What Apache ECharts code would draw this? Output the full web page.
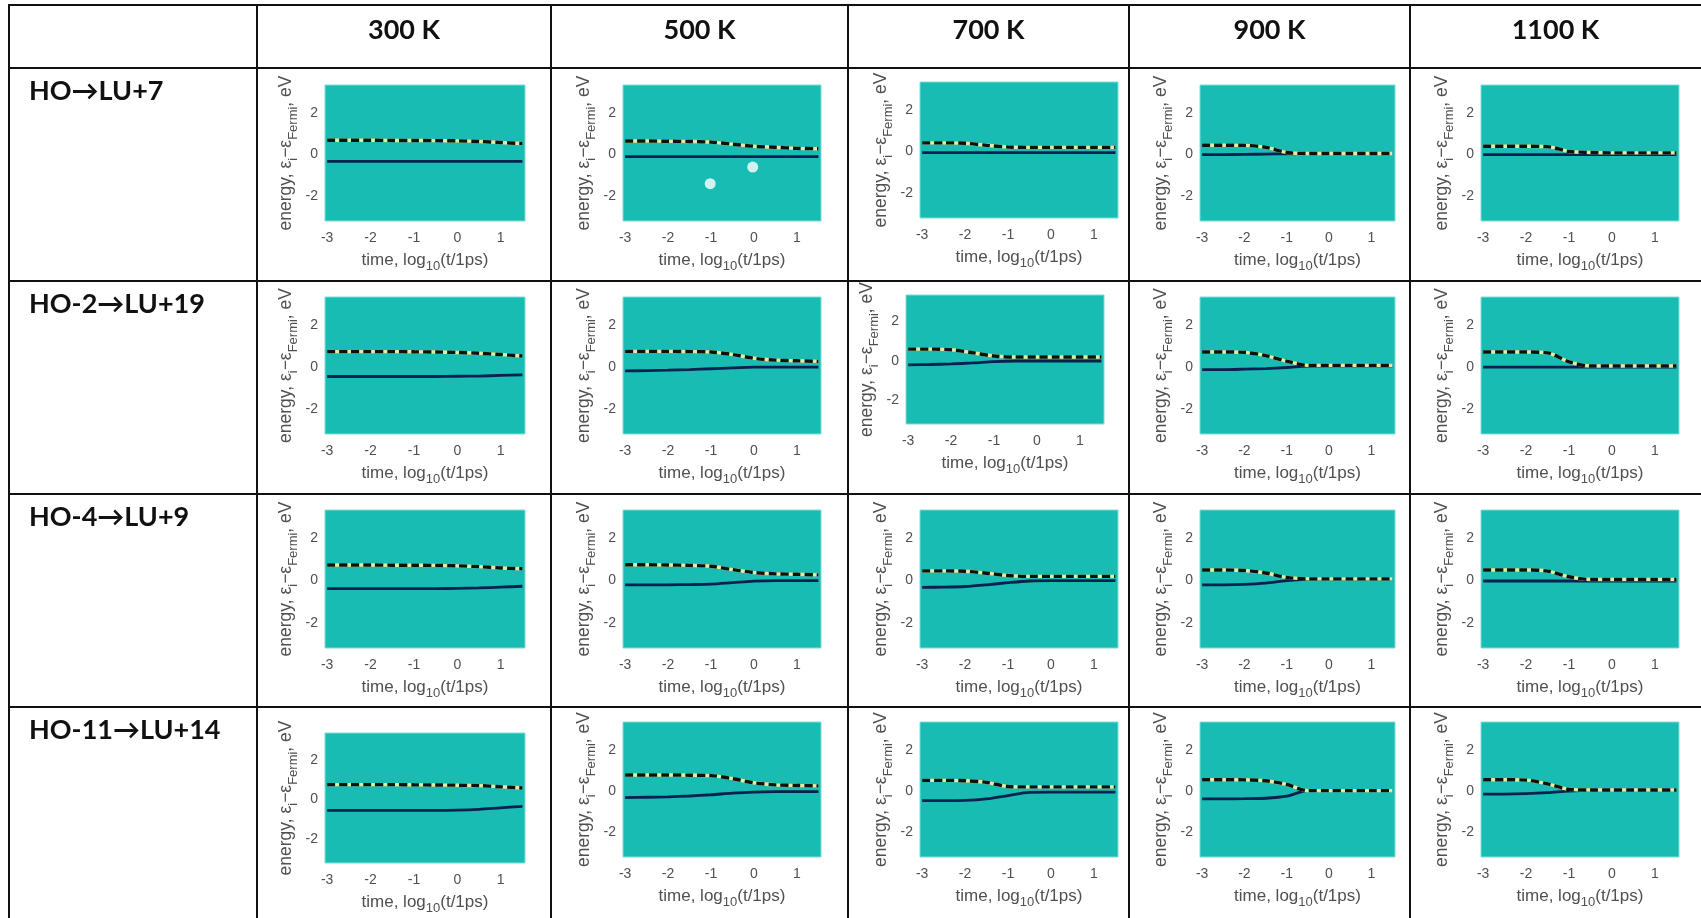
<!DOCTYPE html>
<html><head><meta charset="utf-8">
<script src="https://cdn.jsdelivr.net/npm/echarts@6/dist/echarts.min.js"></script>
<style>html,body{margin:0;padding:0;background:#fff}#c{width:1701px;height:918px}</style>
</head><body><div id="c"></div>
<script>
// ---------- DATA ----------
const temps = ['300 K', '500 K', '700 K', '900 K', '1100 K'];
const transitions = ['HO→LU+7', 'HO-2→LU+19', 'HO-4→LU+9', 'HO-11→LU+14'];
const times = [-3, -2.5, -2, -1.5, -1, -0.5, 0, 0.5, 1, 1.5];
const xTicks = [-3, -2, -1, 0, 1];
const yTicks = [-2, 0, 2];

// dashed (upper) level per temperature, row HO->LU+7
const dashedRow1 = [
  [0.69, 0.69, 0.69, 0.68, 0.68, 0.67, 0.66, 0.63, 0.58, 0.53],
  [0.65, 0.65, 0.64, 0.63, 0.60, 0.50, 0.40, 0.35, 0.30, 0.28],
  [0.42, 0.42, 0.40, 0.30, 0.22, 0.20, 0.20, 0.20, 0.20, 0.20],
  [0.45, 0.45, 0.44, 0.35, 0.10, 0.05, 0.05, 0.05, 0.05, 0.05],
  [0.40, 0.40, 0.40, 0.38, 0.15, 0.10, 0.08, 0.08, 0.08, 0.08]
];
const solidRow1 = [
  [-0.33, -0.33, -0.33, -0.33, -0.33, -0.33, -0.33, -0.33, -0.33, -0.33],
  [-0.10, -0.10, -0.10, -0.10, -0.10, -0.10, -0.10, -0.10, -0.10, -0.10],
  [-0.05, -0.05, -0.05, -0.05, -0.05, -0.05, -0.05, -0.05, -0.05, -0.05],
  [0.00, 0.00, 0.01, 0.02, 0.04, 0.05, 0.05, 0.05, 0.05, 0.05],
  [0.00, 0.00, 0.00, 0.00, 0.00, 0.00, 0.00, 0.00, 0.00, 0.00]
];
// row HO-2->LU+19
const dashedRow2 = [
  [0.74, 0.74, 0.74, 0.74, 0.73, 0.72, 0.70, 0.66, 0.60, 0.53],
  [0.75, 0.75, 0.75, 0.74, 0.72, 0.60, 0.42, 0.33, 0.30, 0.27],
  [0.60, 0.60, 0.57, 0.42, 0.25, 0.20, 0.20, 0.20, 0.20, 0.20],
  [0.72, 0.72, 0.70, 0.55, 0.28, 0.08, 0.08, 0.08, 0.08, 0.08],
  [0.72, 0.72, 0.72, 0.68, 0.25, 0.05, 0.05, 0.05, 0.05, 0.05]
];
const solidRow2 = [
  [-0.45, -0.45, -0.45, -0.45, -0.45, -0.45, -0.44, -0.43, -0.40, -0.37],
  [-0.18, -0.17, -0.15, -0.12, -0.08, -0.04, 0.00, 0.00, 0.00, 0.00],
  [-0.20, -0.18, -0.15, -0.10, -0.03, 0.00, 0.00, 0.00, 0.00, 0.00],
  [-0.12, -0.12, -0.10, -0.07, -0.02, 0.05, 0.06, 0.06, 0.06, 0.06],
  [0.00, 0.00, 0.00, 0.00, 0.00, 0.00, 0.00, 0.00, 0.00, 0.00]
];
// row HO-4->LU+9
const dashedRow3 = [
  [0.74, 0.74, 0.74, 0.73, 0.73, 0.72, 0.70, 0.66, 0.60, 0.56],
  [0.75, 0.75, 0.74, 0.72, 0.68, 0.52, 0.38, 0.32, 0.30, 0.27],
  [0.46, 0.46, 0.44, 0.35, 0.24, 0.20, 0.20, 0.20, 0.20, 0.20],
  [0.50, 0.50, 0.48, 0.36, 0.15, 0.08, 0.08, 0.08, 0.08, 0.08],
  [0.50, 0.50, 0.50, 0.45, 0.18, 0.05, 0.05, 0.05, 0.05, 0.05]
];
const solidRow3 = [
  [-0.38, -0.38, -0.38, -0.38, -0.38, -0.38, -0.37, -0.35, -0.31, -0.27],
  [-0.20, -0.20, -0.20, -0.19, -0.17, -0.10, -0.03, 0.00, 0.00, 0.00],
  [-0.32, -0.31, -0.28, -0.20, -0.10, -0.02, 0.00, 0.00, 0.00, 0.00],
  [-0.20, -0.20, -0.18, -0.12, 0.00, 0.06, 0.07, 0.07, 0.07, 0.07],
  [-0.02, -0.02, -0.02, -0.02, -0.02, -0.02, -0.02, -0.02, -0.02, -0.02]
];
// row HO-11->LU+14
const dashedRow4 = [
  [0.75, 0.75, 0.75, 0.75, 0.74, 0.73, 0.72, 0.70, 0.64, 0.58],
  [0.78, 0.78, 0.78, 0.77, 0.75, 0.60, 0.40, 0.30, 0.27, 0.25],
  [0.52, 0.52, 0.50, 0.42, 0.22, 0.20, 0.20, 0.20, 0.20, 0.20],
  [0.55, 0.55, 0.54, 0.50, 0.32, 0.02, 0.02, 0.02, 0.02, 0.02],
  [0.55, 0.55, 0.53, 0.35, 0.08, 0.05, 0.05, 0.05, 0.05, 0.05]
];
const solidRow4 = [
  [-0.55, -0.55, -0.55, -0.55, -0.55, -0.55, -0.54, -0.50, -0.42, -0.35],
  [-0.32, -0.30, -0.28, -0.24, -0.18, -0.10, -0.05, -0.03, -0.03, -0.03],
  [-0.46, -0.46, -0.45, -0.38, -0.22, -0.06, -0.05, -0.05, -0.05, -0.05],
  [-0.38, -0.38, -0.37, -0.35, -0.25, 0.02, 0.02, 0.02, 0.02, 0.02],
  [-0.15, -0.15, -0.13, -0.08, 0.00, 0.03, 0.03, 0.03, 0.03, 0.03]
];
// white dots seen in the HO->LU+7 / 500 K panel
const dotsX = [-1.02, -0.03];
const dotsY = [-1.4, -0.6];

const dashedRows = [dashedRow1, dashedRow2, dashedRow3, dashedRow4];
const solidRows = [solidRow1, solidRow2, solidRow3, solidRow4];

// ---------- LAYOUT ----------
const vLines = [9, 257, 551, 848, 1129, 1410];
const hLines = [5, 68, 281, 494, 707];
const colLeft = [325, 623, 920, 1200, 1481];
const colWidth = [200, 198, 198, 195, 198];
const rowTop = [85, 297, 510, 722];
const rowHeight = [136, 137, 138, 135];
function rect(r, c) {
  if (r === 1 && c === 2) return { left: 906, top: 295, width: 198, height: 129 };
  if (r === 3 && c === 0) return { left: 325, top: 733, width: 200, height: 130 };
  if (r === 0 && c === 2) return { left: 920, top: 82, width: 198, height: 136 };
  return { left: colLeft[c], top: rowTop[r], width: colWidth[c], height: rowHeight[r] };
}

const TEAL = '#18bcb3';
const labelColor = '#505050';
const tickFont = 'Liberation Sans';

const grids = [], xAxes = [], yAxes = [], series = [];
let idx = 0;
for (let r = 0; r < transitions.length; r++) {
  for (let c = 0; c < temps.length; c++) {
    const g = rect(r, c);
    grids.push(Object.assign({ show: true, backgroundColor: TEAL, borderColor: '#7fdcd6', borderWidth: 1, outerBoundsMode: 'none', containLabel: false }, g));
    xAxes.push({
      type: 'value', gridIndex: idx, min: -3.05, max: 1.56,
      axisLine: { show: false }, axisTick: { show: false }, splitLine: { show: false },
      axisLabel: { customValues: xTicks, color: labelColor, fontSize: 14, fontFamily: tickFont, margin: 10,
        formatter: v => (xTicks.indexOf(v) >= 0) ? String(v) : '' },
      name: '{a|time, log}{s|10}{a|(t/1ps)}', nameLocation: 'middle', nameGap: 27,
      nameTextStyle: { color: labelColor, fontFamily: tickFont, rich: {
        a: { fontSize: 17, color: labelColor, fontFamily: tickFont },
        s: { fontSize: 13, color: labelColor, fontFamily: tickFont, padding: [12, 0, 0, 0] } } }
    });
    yAxes.push({
      type: 'value', gridIndex: idx, min: -3.2, max: 3.35,
      axisLine: { show: false }, axisTick: { show: false }, splitLine: { show: false },
      axisLabel: { customValues: yTicks, color: labelColor, fontSize: 14, fontFamily: tickFont, margin: 7,
        formatter: v => (yTicks.indexOf(v) >= 0) ? String(v) : '' },
      name: '{a|energy, ε}{s|i}{a|−ε}{s|Fermi}{a|, eV}', nameLocation: 'middle', nameGap: 25, nameRotate: 90,
      nameTextStyle: { color: labelColor, fontFamily: tickFont, rich: {
        a: { fontSize: 17.5, color: labelColor, fontFamily: tickFont },
        s: { fontSize: 13, color: labelColor, fontFamily: tickFont, padding: [14, 0, 0, 0] } } }
    });
    const up = times.map((t, i) => [t, dashedRows[r][c][i]]);
    const lo = times.map((t, i) => [t, solidRows[r][c][i]]);
    series.push({ type: 'line', xAxisIndex: idx, yAxisIndex: idx, data: lo, showSymbol: false, smooth: 0.3,
      lineStyle: { color: '#0a2150', width: 2.8 }, z: 2 });
    series.push({ type: 'line', xAxisIndex: idx, yAxisIndex: idx, data: up, showSymbol: false, smooth: 0.3,
      lineStyle: { color: '#dfeda0', width: 3.4 }, z: 3 });
    series.push({ type: 'line', xAxisIndex: idx, yAxisIndex: idx, data: up, showSymbol: false, smooth: 0.3,
      lineStyle: { color: '#111', width: 3.4, type: [8, 4] }, z: 4 });
    if (r === 0 && c === 1) {
      series.push({ type: 'scatter', xAxisIndex: idx, yAxisIndex: idx, symbolSize: 11,
        data: dotsX.map((x, i) => [x, dotsY[i]]), itemStyle: { color: '#fff' }, z: 5 });
    }
    idx++;
  }
}

const graphics = [];
hLines.forEach(y => graphics.push({ type: 'line', shape: { x1: vLines[0] - 1, y1: y, x2: 1701, y2: y }, style: { stroke: '#111', lineWidth: 2 }, z: 100 }));
vLines.forEach(x => graphics.push({ type: 'line', shape: { x1: x, y1: hLines[0] - 1, x2: x, y2: 918 }, style: { stroke: '#111', lineWidth: 2 }, z: 100 }));
temps.forEach((t, i) => {
  const cx = (vLines[i + 1] + (i + 2 < vLines.length ? vLines[i + 2] : 1701)) / 2;
  graphics.push({ type: 'text', x: cx, y: 30, z: 100, style: { text: t, fontSize: 27, fontWeight: 'bold', fontFamily: 'Lato, "Open Sans", sans-serif', fill: '#111', align: 'center', verticalAlign: 'middle' } });
});
transitions.forEach((t, i) => {
  graphics.push({ type: 'text', x: 29, y: hLines[i + 1] + 23, z: 100, style: { text: t, fontSize: 27, fontWeight: 'bold', fontFamily: 'Lato, "Open Sans", sans-serif', fill: '#111', align: 'left', verticalAlign: 'middle' } });
});

const chart = echarts.init(document.getElementById('c'), null, { renderer: 'canvas' });
chart.setOption({ animation: false, backgroundColor: '#fff', grid: grids, xAxis: xAxes, yAxis: yAxes, series: series, graphic: graphics });
</script></body></html>
